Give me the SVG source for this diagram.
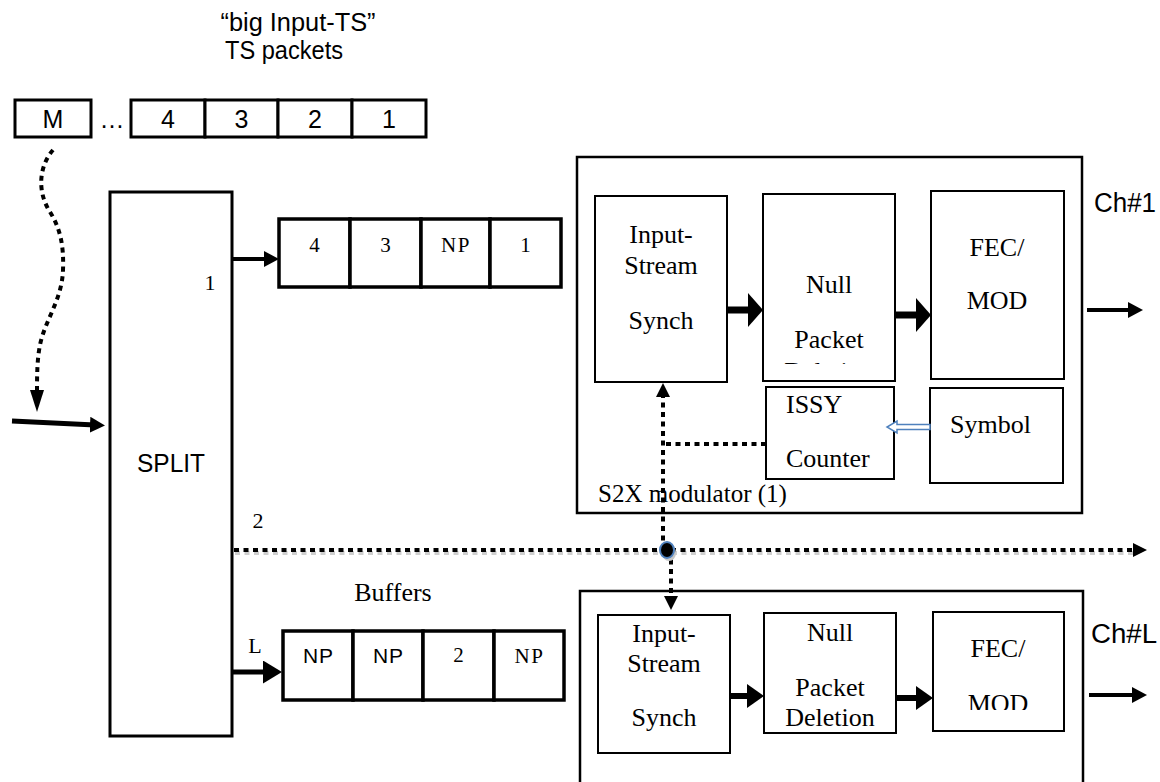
<svg xmlns="http://www.w3.org/2000/svg" width="1160" height="782" viewBox="0 0 1160 782">
<style>
.box{fill:#fff;stroke:#000;stroke-width:2}
.outer{fill:#fff;stroke:#000;stroke-width:2.5}
.pk{fill:#fff;stroke:#000;stroke-width:3}
.bf{fill:#fff;stroke:#000;stroke-width:3.5}
.sans{font-family:"Liberation Sans",Arial,sans-serif;fill:#000}
.serif{font-family:"Liberation Serif","Times New Roman",serif;fill:#000}
.blk{font-size:26px;text-anchor:middle}
.bnum{font-size:21px;text-anchor:middle}
.tnum{font-size:25px;text-anchor:middle}
.dot{fill:none;stroke:#000;stroke-width:4;stroke-dasharray:5 4.5}
.shadow{fill:none;stroke:#cfcfcf;stroke-width:4;stroke-dasharray:5 4.5}
.arr{fill:none;stroke:#000}
</style>
<defs>
<marker id="hBig" markerUnits="userSpaceOnUse" markerWidth="15" markerHeight="34" refX="6" refY="17" orient="auto"><path d="M0,0 L15,17 L0,34 Z" fill="#000"/></marker>
<marker id="hBig2" markerUnits="userSpaceOnUse" markerWidth="17" markerHeight="24" refX="7" refY="12" orient="auto"><path d="M0,0 L17,12 L0,24 Z" fill="#000"/></marker>
<marker id="hMed" markerUnits="userSpaceOnUse" markerWidth="15" markerHeight="16" refX="5" refY="8" orient="auto"><path d="M0,0 L15,8 L0,16 Z" fill="#000"/></marker>
<marker id="hL" markerUnits="userSpaceOnUse" markerWidth="19" markerHeight="23" refX="9" refY="11.5" orient="auto"><path d="M0,0 L19,11.5 L0,23 Z" fill="#000"/></marker>
<marker id="hDot" markerUnits="userSpaceOnUse" markerWidth="14" markerHeight="14" refX="4" refY="7" orient="auto"><path d="M0,0 L14,7 L0,14 Z" fill="#000"/></marker>
<marker id="hCurve" markerUnits="userSpaceOnUse" markerWidth="22" markerHeight="14" refX="4" refY="7" orient="auto"><path d="M0,0 L22,7 L0,14 Z" fill="#000"/></marker>
<clipPath id="clipDel"><rect x="763" y="194" width="132" height="170"/></clipPath>
<clipPath id="clipMod"><rect x="933" y="612" width="131" height="98"/></clipPath>
</defs>
<rect x="0" y="0" width="1160" height="782" fill="#fff"/>

<g id="title">
<text class="sans" x="298" y="31" font-size="26" text-anchor="middle" textLength="155" lengthAdjust="spacingAndGlyphs">“big Input-TS”</text>
<text class="sans" x="284" y="59" font-size="25" text-anchor="middle" textLength="118" lengthAdjust="spacingAndGlyphs">TS packets</text>
</g>

<g id="input-ts">
<rect class="pk" x="15" y="100" width="76" height="37"/>
<text class="sans tnum" x="53" y="127.5">M</text>
<text class="sans tnum" x="112" y="127.5">…</text>
<rect class="pk" x="131" y="100" width="74" height="37"/>
<rect class="pk" x="205" y="100" width="73" height="37"/>
<rect class="pk" x="278" y="100" width="74" height="37"/>
<rect class="pk" x="352" y="100" width="74" height="37"/>
<text class="sans tnum" x="168" y="127.5">4</text>
<text class="sans tnum" x="241.5" y="127.5">3</text>
<text class="sans tnum" x="315" y="127.5">2</text>
<text class="sans tnum" x="389" y="127.5">1</text>
</g>

<g id="split">
<rect class="pk" x="110" y="192" width="122" height="544"/>
<text class="sans" x="171" y="472" font-size="25" text-anchor="middle" textLength="68" lengthAdjust="spacingAndGlyphs">SPLIT</text>
<text class="serif" x="210" y="290" font-size="22" text-anchor="middle">1</text>
<text class="serif" x="258" y="528" font-size="22" text-anchor="middle">2</text>
<text class="serif" x="255" y="653" font-size="22" text-anchor="middle">L</text>
</g>

<g id="buffer-1">
<rect class="bf" x="279" y="219" width="71" height="68"/>
<rect class="bf" x="350" y="219" width="71" height="68"/>
<rect class="bf" x="421" y="219" width="69" height="68"/>
<rect class="bf" x="490" y="219" width="71" height="68"/>
<text class="serif bnum" x="314.5" y="252">4</text>
<text class="serif bnum" x="385.5" y="252">3</text>
<text class="serif bnum" x="456" y="252" letter-spacing="1.5">NP</text>
<text class="serif bnum" x="525.5" y="252">1</text>
</g>

<g id="buffer-L">
<text class="serif" x="393" y="601" font-size="26" text-anchor="middle">Buffers</text>
<rect class="bf" x="283" y="631" width="70" height="69"/>
<rect class="bf" x="353" y="631" width="70" height="69"/>
<rect class="bf" x="423" y="631" width="71" height="69"/>
<rect class="bf" x="494" y="631" width="70" height="69"/>
<text class="sans bnum" x="318.5" y="663" letter-spacing="1">NP</text>
<text class="sans bnum" x="388.5" y="663" letter-spacing="1">NP</text>
<text class="serif bnum" x="458.5" y="662">2</text>
<text class="serif bnum" x="529.5" y="663" letter-spacing="1.5">NP</text>
</g>

<g id="s2x-modulator-1">
<rect class="outer" x="577" y="157" width="505" height="356"/>
<g id="issy-1">
<rect class="box" x="595" y="196" width="132" height="186"/>
<text class="serif blk" x="661" y="243">Input-</text>
<text class="serif blk" x="661" y="274">Stream</text>
<text class="serif blk" x="661" y="329">Synch</text>
</g>
<g id="npd-1">
<rect class="box" x="763" y="194" width="132" height="187"/>
<text class="serif blk" x="829" y="293">Null</text>
<text class="serif blk" x="829" y="348">Packet</text>
<text class="serif blk" x="829" y="380" clip-path="url(#clipDel)">Deletion</text>
</g>
<g id="fec-1">
<rect class="box" x="931" y="191" width="133" height="188"/>
<text class="serif blk" x="997" y="256">FEC/</text>
<text class="serif blk" x="997" y="309">MOD</text>
</g>
<g id="issy-counter-1">
<rect class="box" x="766" y="387" width="128" height="92"/>
<text class="serif" x="786" y="413" font-size="26">ISSY</text>
<text class="serif" x="786" y="467" font-size="26">Counter</text>
</g>
<g id="symbol-1">
<rect class="box" x="930" y="388" width="133" height="95"/>
<text class="serif" x="950" y="433" font-size="26">Symbol</text>
</g>
<text class="serif" x="598" y="502" font-size="25">S2X modulator (1)</text>
<text class="sans" x="1094" y="212" font-size="27" textLength="62" lengthAdjust="spacingAndGlyphs">Ch#1</text>
</g>

<g id="s2x-modulator-L">
<rect class="outer" x="580" y="591" width="503" height="220"/>
<g id="issy-L">
<rect class="box" x="598" y="615" width="132" height="138"/>
<text class="serif blk" x="664" y="642">Input-</text>
<text class="serif blk" x="664" y="672">Stream</text>
<text class="serif blk" x="664" y="726">Synch</text>
</g>
<g id="npd-L">
<rect class="box" x="764" y="613" width="132" height="120"/>
<text class="serif blk" x="830" y="641">Null</text>
<text class="serif blk" x="830" y="696">Packet</text>
<text class="serif blk" x="830" y="726">Deletion</text>
</g>
<g id="fec-L">
<rect class="box" x="933" y="612" width="131" height="119"/>
<text class="serif blk" x="998" y="657">FEC/</text>
<text class="serif blk" x="998" y="712" clip-path="url(#clipMod)">MOD</text>
</g>
<text class="sans" x="1091" y="643" font-size="27" textLength="66" lengthAdjust="spacingAndGlyphs">Ch#L</text>
</g>

<g id="connectors">
<line class="arr" x1="12" y1="421" x2="95" y2="425" stroke-width="5" marker-end="url(#hMed)"/>
<path class="dot" d="M53,150 C40,165 36,190 50,212 C60,228 64,245 63,270 C62,300 45,320 40,345 C37,360 37,376 37,394" marker-end="url(#hCurve)"/>
<line class="arr" x1="232" y1="259" x2="269" y2="259" stroke-width="4" marker-end="url(#hMed)"/>
<line class="arr" x1="232" y1="672" x2="272" y2="672" stroke-width="5" marker-end="url(#hL)"/>
<line class="arr" x1="727" y1="310" x2="754" y2="310" stroke-width="7" marker-end="url(#hBig)"/>
<line class="arr" x1="895" y1="315" x2="922" y2="315" stroke-width="7" marker-end="url(#hBig)"/>
<line class="arr" x1="1087" y1="310" x2="1133" y2="310" stroke-width="4" marker-end="url(#hMed)"/>
<line class="arr" x1="730" y1="696" x2="754" y2="696" stroke-width="6" marker-end="url(#hBig2)"/>
<line class="arr" x1="896" y1="698" x2="923" y2="698" stroke-width="6" marker-end="url(#hBig2)"/>
<line class="arr" x1="1089" y1="695" x2="1137" y2="695" stroke-width="4" marker-end="url(#hMed)"/>
<path d="M930,424.5 H897 V421 L887,427 L897,433 V429.5 H930 Z" fill="#fff" stroke="#4f81bd" stroke-width="1.5"/>
<line class="shadow" x1="235" y1="553" x2="1137" y2="553"/>
<line class="dot" x1="234" y1="550" x2="1137" y2="550" marker-end="url(#hDot)"/>
<line class="dot" x1="663" y1="550" x2="663" y2="393" marker-end="url(#hDot)"/>
<line class="dot" x1="766" y1="444" x2="663" y2="444"/>
<line class="dot" x1="671" y1="550" x2="671" y2="600" marker-end="url(#hDot)"/>
<ellipse cx="669" cy="553" rx="7" ry="8" fill="#c8c8c8"/>
<ellipse cx="667" cy="550" rx="7" ry="8" fill="#000" stroke="#4f81bd" stroke-width="2"/>
</g>
</svg>
